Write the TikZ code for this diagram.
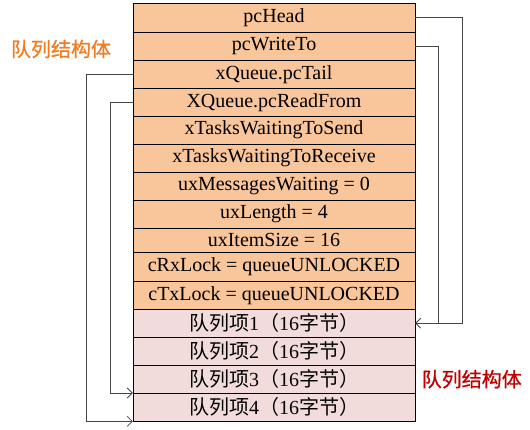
\documentclass[tikz,border=0pt]{standalone}
\usepackage{fontspec}
\setmainfont{Liberation Serif}
\newfontfamily\cjk{Noto Sans CJK SC}
\newfontfamily\cjktitle[FakeBold=0.8]{Noto Sans CJK SC}
\usetikzlibrary{arrows.meta}
\definecolor{fieldorange}{RGB}{249,197,154}
\definecolor{itempink}{RGB}{242,220,219}
\definecolor{titleorange}{RGB}{240,125,35}
\definecolor{titlered}{RGB}{192,0,0}
\definecolor{linkgray}{RGB}{70,70,70}
\newcommand{\zh}[1]{{\cjk #1}}
\tikzset{
  field/.style={draw, fill=fieldorange, minimum width=282pt, minimum height=#1, anchor=north, inner sep=0pt, font=\fontsize{20}{22}\selectfont},
  field/.default=28pt,
  item/.style={field=28pt, fill=itempink},
  title/.style={font=\cjktitle\fontsize{20}{22}\selectfont},
  link/.style={draw=linkgray, line width=0.8pt},
  tip/.style={link, -{Straight Barb[length=5pt, width=10pt]}}
}
\begin{document}
\begin{tikzpicture}[x=1pt, y=-1pt]
\useasboundingbox (0,0) rectangle (530,429);
% queue structure fields
\node [field=29pt] (head)     at (274,3)   {pcHead};
\node [field]      (writeto)  at (274,32)  {pcWriteTo};
\node [field]      (tail)     at (274,60)  {xQueue.pcTail};
\node [field]      (readfrom) at (274,88)  {XQueue.pcReadFrom};
\node [field]      (tosend)   at (274,116) {xTasksWaitingToSend};
\node [field]      (torecv)   at (274,144) {xTasksWaitingToReceive};
\node [field]      (waiting)  at (274,172) {uxMessagesWaiting = 0};
\node [field]      (length)   at (274,200) {uxLength = 4};
\node [field=24pt] (itemsize) at (274,228) {uxItemSize = 16};
\node [field=29pt] (rxlock)   at (274,252) {cRxLock = queueUNLOCKED};
\node [field]      (txlock)   at (274,281) {cTxLock = queueUNLOCKED};
% queue storage
\node [item] (q1) at (274,309) {\zh{队列项}1\zh{（}16\zh{字节）}};
\node [item] (q2) at (274,337) {\zh{队列项}2\zh{（}16\zh{字节）}};
\node [item] (q3) at (274,365) {\zh{队列项}3\zh{（}16\zh{字节）}};
\node [item] (q4) at (274,393) {\zh{队列项}4\zh{（}16\zh{字节）}};

\node [title, titleorange] (lefttitle) at (61,49) {队列结构体};
\node [title, titlered, anchor=west] (righttitle) at ([xshift=3pt]q3.east) {队列结构体};

% pointers
\coordinate (headturn) at (462,0);
\coordinate (writeturn) at (438,0);
\coordinate (tailturn) at (86,0);
\coordinate (readturn) at (110,0);
\draw[tip] (head.east) -- (head.east -| headturn) |- (q1.east);
\draw[link] (writeto.east) -- (writeto.east -| writeturn) -- (q1.east -| writeturn);
\draw[tip] (tail.west) -- (tail.west -| tailturn) |- (q4.south west);
\draw[tip] (readfrom.west) -- (readfrom.west -| readturn) |- (q4.north west);
\end{tikzpicture}
\end{document}
